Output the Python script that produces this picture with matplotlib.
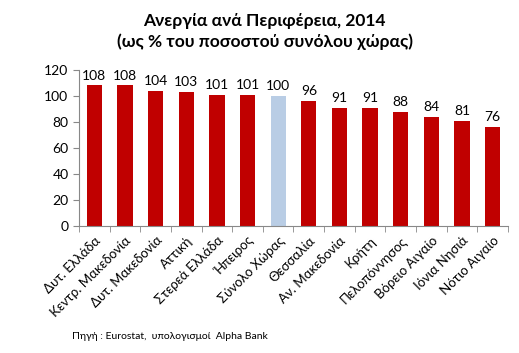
import numpy as np
import matplotlib.pyplot as plt

# Ανεργία ανά Περιφέρεια 2014
regions = ["Δυτ. Ελλάδα", "Κεντρ. Μακεδονία", "Δυτ. Μακεδονία", "Αττική",
           "Στερεά Ελλάδα", "Ήπειρος", "Σύνολο Χώρας", "Θεσσαλία",
           "Αν. Μακεδονία", "Κρήτη", "Πελοπόννησος", "Βόρειο Αιγαίο",
           "Ιόνια Νησιά", "Νότιο Αιγαίο"]
values = [108, 108, 104, 103, 101, 101, 100, 96, 91, 91, 88, 84, 81, 76]
highlight = "Σύνολο Χώρας"

plt.rcParams['font.family'] = ['Lato', 'DejaVu Sans']

fig = plt.figure(figsize=(5.19, 3.53), dpi=100)
ax = fig.add_axes([0.152, 0.36, 0.827, 0.442])

x = np.arange(len(regions))
colors = ["#B9CDE5" if r == highlight else "#C00000" for r in regions]
ax.bar(x, values, width=0.5, color=colors)

for xi, v in zip(x, values):
    ax.text(xi, v + 3, str(v), ha="center", va="bottom", fontsize=10)

ax.set_xlim(-0.5, len(regions) - 0.5)
ax.set_ylim(0, 120)
ax.set_yticks(range(0, 121, 20))
ax.tick_params(axis="y", labelsize=10, length=4, color="#888888")

ax.set_xticks(x)
ax.set_xticklabels(regions, rotation=45, ha="right", rotation_mode="anchor", fontsize=9.5)
ax.set_xticks(np.arange(-0.5, len(regions)), minor=True)
ax.tick_params(axis="x", which="major", length=0, pad=6)
ax.tick_params(axis="x", which="minor", length=4, color="#888888")

for s in ["top", "right"]:
    ax.spines[s].set_visible(False)
for s in ["left", "bottom"]:
    ax.spines[s].set_color("#888888")

fig.text(0.51, 0.925, "Ανεργία ανά Περιφέρεια, 2014", ha="center", fontsize=12.5, fontweight="bold")
fig.text(0.51, 0.868, "(ως % του ποσοστού συνόλου χώρας)", ha="center", fontsize=12.5, fontweight="bold")
fig.text(0.138, 0.04, "Πηγή : Eurostat,  υπολογισμοί  Alpha Bank", fontsize=7.5)

plt.savefig("out.png", dpi=100)
